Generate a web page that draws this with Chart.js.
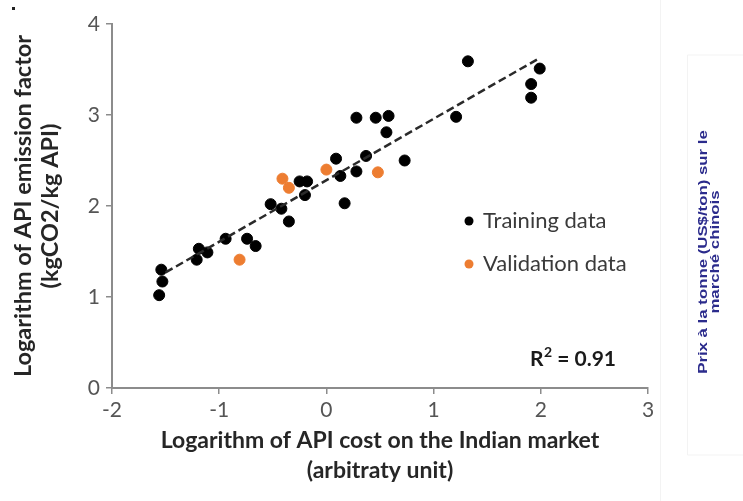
<!DOCTYPE html>
<html>
<head>
<meta charset="utf-8">
<script src="https://cdn.jsdelivr.net/npm/chart.js@4"></script>
<style>
  body { margin: 0; background: #fff; }
  canvas { display: block; }
</style>
</head>
<body>
<canvas id="chart" width="743" height="501"></canvas>
<script>
// values
const trainX = [1.32, 1.99, 1.91, 1.91, 1.21, 0.28, 0.46, 0.58, 0.56, 0.37, 0.73, 0.09, 0.13, 0.28,
  -0.18, -0.25, -0.20, 0.17, -0.52, -0.42, -0.35, -0.94, -0.74, -0.66, -1.19, -1.11, -1.21, -1.54, -1.53, -1.56];
const trainY = [3.59, 3.51, 3.34, 3.19, 2.98, 2.97, 2.97, 2.99, 2.81, 2.55, 2.50, 2.52, 2.33, 2.38,
  2.27, 2.27, 2.12, 2.03, 2.02, 1.97, 1.83, 1.64, 1.64, 1.56, 1.53, 1.49, 1.41, 1.30, 1.17, 1.02];
const validX = [-0.81, -0.41, -0.35, 0.00, 0.48];
const validY = [1.41, 2.30, 2.20, 2.40, 2.37];
const fitX = [-1.50, 1.98];
const fitY = [1.27, 3.62];
const xTicks = [-2, -1, 0, 1, 2, 3];
const yTicks = [0, 1, 2, 3, 4];

const toPoints = (xs, ys) => xs.map((x, i) => ({ x: x, y: ys[i] }));

const FONT = "Lato, 'Open Sans', sans-serif";
const AXIS = "#8c8c8c";

// legend, R² box and the side note, drawn on top of the plot
const extras = {
  id: "extras",
  afterDraw(chart) {
    const ctx = chart.ctx;
    ctx.save();

    // faint frame lines from the source page
    ctx.strokeStyle = "#f3f3f3";
    ctx.lineWidth = 1;
    ctx.beginPath();
    ctx.moveTo(660.5, 0); ctx.lineTo(660.5, 501);
    ctx.moveTo(687.5, 55); ctx.lineTo(687.5, 455); ctx.lineTo(743, 455);
    ctx.moveTo(687.5, 55); ctx.lineTo(743, 55);
    ctx.stroke();

    // legend
    ctx.font = "22px " + FONT;
    ctx.textBaseline = "middle";
    ctx.textAlign = "left";
    ctx.fillStyle = "#000";
    ctx.beginPath(); ctx.arc(469, 221, 4.5, 0, Math.PI * 2); ctx.fill();
    ctx.fillStyle = "#3a3a3a";
    ctx.fillText("Training data", 483, 221);
    ctx.fillStyle = "#ed7d31";
    ctx.beginPath(); ctx.arc(469, 264, 4.5, 0, Math.PI * 2); ctx.fill();
    ctx.fillStyle = "#3a3a3a";
    ctx.fillText("Validation data", 483, 264);

    // R²
    ctx.fillStyle = "#1a1a1a";
    ctx.font = "bold 21px " + FONT;
    ctx.fillText("R", 530, 359);
    let w = ctx.measureText("R").width;
    ctx.font = "bold 14px " + FONT;
    ctx.fillText("2", 530 + w + 0.5, 352);
    let w2 = ctx.measureText("2").width;
    ctx.font = "bold 21px " + FONT;
    ctx.fillText(" = 0.91", 530 + w + w2 + 0.5, 359);

    // side note
    ctx.fillStyle = "#2b2b8c";
    ctx.font = "bold 12px 'Liberation Sans', Arial, sans-serif";
    ctx.textAlign = "center";
    ctx.translate(704, 252);
    ctx.rotate(-Math.PI / 2);
    ctx.scale(1.4, 1);
    ctx.fillText("Prix à la tonne (US$/ton) sur le", 0, 0);
    ctx.fillText("marché chinois", 0, 12);
    ctx.restore();

    // small mark in the top-left corner
    ctx.fillStyle = "#222";
    ctx.fillRect(12, 7, 3, 3);
  }
};

new Chart(document.getElementById("chart"), {
  type: "scatter",
  data: {
    datasets: [
      {
        label: "Training data",
        data: toPoints(trainX, trainY),
        backgroundColor: "#000",
        borderColor: "#000",
        pointRadius: 5.5,
        pointHoverRadius: 5.5,
        order: 2,
      },
      {
        label: "Validation data",
        data: toPoints(validX, validY),
        backgroundColor: "#ed7d31",
        borderColor: "#ed7d31",
        pointRadius: 5.5,
        pointHoverRadius: 5.5,
        order: 3,
      },
      {
        type: "line",
        label: "Fit",
        data: toPoints(fitX, fitY),
        borderColor: "#2a2a2a",
        borderWidth: 2.5,
        borderDash: [8, 4],
        pointRadius: 0,
        fill: false,
        order: 1,
      },
    ],
  },
  options: {
    responsive: false,
    animation: false,
    events: [],
    layout: { padding: { top: 24, right: 95, left: 0, bottom: 0 } },
    plugins: {
      legend: { display: false },
      tooltip: { enabled: false },
    },
    scales: {
      x: {
        type: "linear",
        min: -2,
        max: 3,
        afterBuildTicks: (scale) => { scale.ticks = xTicks.map((v) => ({ value: v })); },
        afterFit: (scale) => { scale.height = 113; },
        border: { color: AXIS, width: 2 },
        grid: { drawOnChartArea: false, drawTicks: true, tickLength: 6, color: AXIS, lineWidth: 1.5 },
        ticks: { color: "#555", font: { family: FONT, size: 21 }, padding: 4 },
        title: {
          display: true,
          text: ["Logarithm of API cost on the Indian market", "(arbitraty unit)"],
          color: "#262626",
          font: { family: FONT, size: 23, weight: "bold", lineHeight: "30px" },
          padding: { top: 0, bottom: 15 },
        },
      },
      y: {
        type: "linear",
        min: 0,
        max: 4,
        afterBuildTicks: (scale) => { scale.ticks = yTicks.map((v) => ({ value: v })); },
        afterFit: (scale) => { scale.width = 112; },
        border: { color: AXIS, width: 2 },
        grid: { drawOnChartArea: false, drawTicks: true, tickLength: 6, color: AXIS, lineWidth: 1.5 },
        ticks: { color: "#555", font: { family: FONT, size: 21 }, padding: 6 },
        title: {
          display: true,
          text: ["Logarithm of API emission factor", "(kgCO2/kg API)"],
          color: "#262626",
          font: { family: FONT, size: 23.5, weight: "bold", lineHeight: "27px" },
          padding: { top: 9.5, bottom: 0 },
        },
      },
    },
  },
  plugins: [extras],
});
</script>
</body>
</html>
